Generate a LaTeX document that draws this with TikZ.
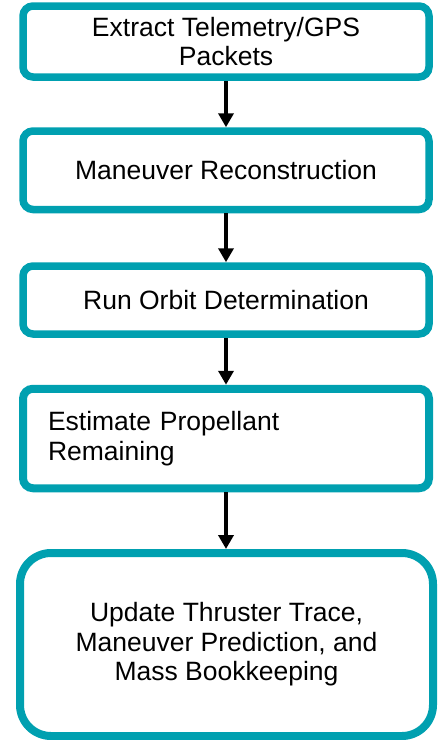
\documentclass[tikz,border=0pt]{standalone}
\usepackage{fontspec}
\setmainfont{Liberation Sans}
\usetikzlibrary{arrows.meta}
\definecolor{stepteal}{RGB}{0,160,176}
\begin{document}
\begin{tikzpicture}[x=1pt,y=-1pt,
  stepbox/.style={draw=stepteal, line width=7.5pt, fill=white, rounded corners=10pt,
    inner sep=0pt, align=center, font=\fontsize{26.5}{29.5}\selectfont},
  flowarrow/.style={draw=black, line width=3.5pt, -{Triangle[width=15pt,length=14pt]}}]
\useasboundingbox (0,0) rectangle (438,740);

\node[stepbox, minimum width=406pt, minimum height=71pt] (extract) at (226,41.5)
  {Extract Telemetry/GPS\\Packets};
\node[stepbox, minimum width=406pt, minimum height=78.5pt] (recon) at (226,170.25)
  {Maneuver Reconstruction};
\node[stepbox, minimum width=406pt, minimum height=68pt] (orbit) at (226,300)
  {Run Orbit Determination};
\node[stepbox, line width=8pt, minimum width=406pt, minimum height=99.5pt,
  text width=356pt, inner xsep=25pt, align=left] (prop) at (226,438.5)
  {Estimate Propellant\\Remaining};
\node[stepbox, line width=8pt, rounded corners=31pt, minimum width=413pt,
  minimum height=183pt] (update) at (226.5,644.5)
  {Update Thruster Trace,\\Maneuver Prediction, and\\Mass Bookkeeping};

\draw[flowarrow] (extract.south -| 226,0) -- (recon.north -| 226,0);
\draw[flowarrow] (recon.south -| 226,0) -- (orbit.north -| 226,0);
\draw[flowarrow] (orbit.south -| 226,0) -- (prop.north -| 226,0);
\draw[flowarrow] (prop.south -| 226,0) -- (update.north -| 226,0);
\end{tikzpicture}
\end{document}
